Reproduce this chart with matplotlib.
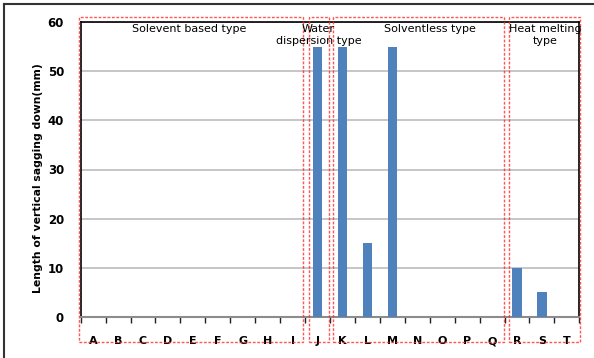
import numpy as np
import matplotlib
matplotlib.use("Agg")
import matplotlib.pyplot as plt
from matplotlib.patches import Rectangle
from matplotlib.lines import Line2D
from matplotlib.transforms import blended_transform_factory

# samples and measured sagging length (mm)
samples = list("ABCDEFGHIJKLMNOPQRST")
sagging = [0, 0, 0, 0, 0, 0, 0, 0, 0, 55, 55, 15, 55, 0, 0, 0, 0, 10, 5, 0]

# adhesive groups: label, first sample index, last sample index
groups = ["Solevent based type", "Water\ndispersion type", "Solventless type", "Heat melting\ntype"]
group_first = [0, 9, 10, 17]
group_last = [8, 9, 16, 19]

plt.rcParams['font.family'] = ['DejaVu Sans']

fig = plt.figure(figsize=(5.94, 3.58), dpi=100)
ax = fig.add_axes([80.7/594, 1-316.7/358, (579.3-80.7)/594, (316.7-22.3)/358])

x = np.arange(len(samples))
ax.bar(x, sagging, width=0.38, color='#4f81bd', zorder=3)

ax.set_xlim(-0.5, len(samples)-0.5)
ax.set_ylim(0, 60)
ax.set_yticks(range(0, 61, 10))
ax.yaxis.grid(True, color='#bcbcbc', linewidth=1.2, zorder=0)
ax.set_axisbelow(True)

ax.set_xticks(x)
ax.set_xticklabels(samples, fontsize=8, fontweight='bold')
ax.set_xticks(np.arange(-0.5, len(samples)), minor=True)
ax.tick_params(axis='x', which='major', length=0, pad=14)
ax.tick_params(axis='x', which='minor', length=4, width=1, color='#222222', direction='out')
ax.tick_params(axis='y', length=0, pad=12)
for lab in ax.get_yticklabels():
    lab.set_fontweight('bold')
    lab.set_fontsize(8.5)

for side in ['top', 'right', 'left']:
    ax.spines[side].set_color('black')
    ax.spines[side].set_linewidth(1.2)
ax.spines['bottom'].set_color('#8c8c8c')
ax.spines['bottom'].set_linewidth(1.5)

ax.set_ylabel("Length of vertical sagging down(mm)", fontsize=7.8, fontweight='bold')
ax.yaxis.set_label_coords(-0.075, 0.471)

# dashed red boxes around each group
trans = blended_transform_factory(ax.transData, fig.transFigure)
pad_left = [0.07, -0.16, -0.13, -0.18]
pad_right = [-0.07, -0.04, -0.01, 0.03]
y0, y1 = 1-342/358, 1-16.7/358
for g, (a, b) in enumerate(zip(group_first, group_last)):
    left = a - 0.5 - pad_left[g]
    right = b + 0.5 + pad_right[g]
    ax.add_patch(Rectangle((left, y0), right-left, y1-y0, transform=trans,
                           fill=False, edgecolor='#ff2a2a', linestyle=(0, (2, 1.2)),
                           linewidth=1.0, clip_on=False, zorder=5, alpha=0.8))

# group titles
label_x = [3.86, 9.04, 13.51, 18.14]
for g, name in enumerate(groups):
    ax.text(label_x[g], 1-24/358, name, transform=trans, ha='center', va='top',
            fontsize=8, linespacing=1.2, zorder=6)

# outer frame (left and top edges only)
fig.add_artist(Line2D([4/594, 4/594], [-0.01, 1-4/358], transform=fig.transFigure, color='#333333', linewidth=1.5))
fig.add_artist(Line2D([4/594, 1.01], [1-4/358, 1-4/358], transform=fig.transFigure, color='#333333', linewidth=1.5))

fig.savefig("out.png", dpi=100)
